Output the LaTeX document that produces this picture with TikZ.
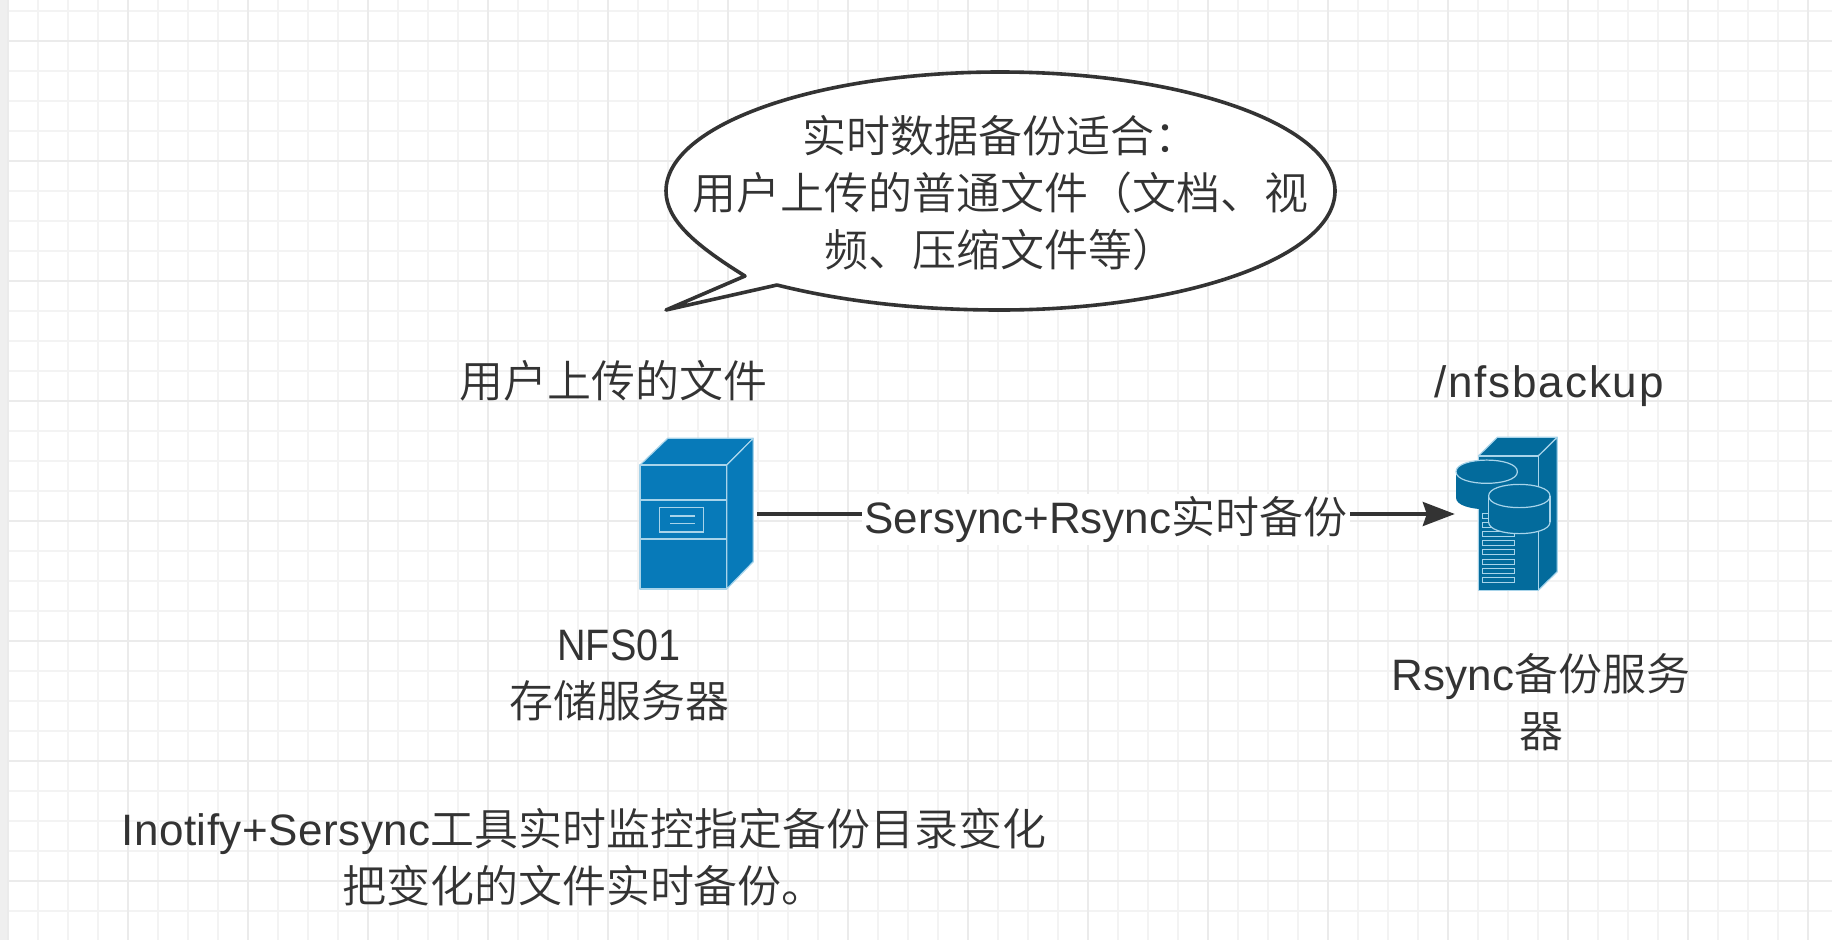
\documentclass[tikz,border=0pt]{standalone}
\usepackage{fontspec}
\setmainfont{Liberation Sans}
\newfontfamily\cjk{Noto Sans CJK SC}[UprightFont=* DemiLight]
\usetikzlibrary{arrows.meta}
\definecolor{ink}{HTML}{333333}
\definecolor{gridminor}{HTML}{F3F3F3}
\definecolor{gridmajor}{HTML}{EBEBEB}
\definecolor{blueA}{HTML}{077AB9}
\definecolor{blueB}{HTML}{036B9C}
\definecolor{edgeL}{HTML}{A8D4EA}
\tikzset{
  label text/.style={text=ink,inner sep=0pt,align=center,font=\fontsize{44}{57}\selectfont},
  icon box/.style={inner sep=0pt,minimum height=152pt},
  iconA/.style={fill=blueA,draw=edgeL,line width=1.2pt,line join=round},
  iconB/.style={fill=blueB,draw=edgeL,line width=1.2pt,line join=round},
  link/.style={draw=ink,line width=3.4pt,-{Stealth[length=32pt,width=24pt,inset=4pt]}},
}
\begin{document}
\begin{tikzpicture}[x=1pt,y=-1pt]
\useasboundingbox (0,0) rectangle (1832,940);
\fill[white] (0,0) rectangle (1832,940);
\fill[gridmajor!80!white] (0,0) rectangle (8,940);
% grid
\foreach \i in {0,...,60}{
  \pgfmathsetmacro\gx{8+30*\i}
  \draw[gridminor,line width=1.8pt] (\gx,0) -- (\gx,940);
}
\foreach \i in {0,...,31}{
  \pgfmathsetmacro\gy{10.6+30*\i}
  \draw[gridminor,line width=1.8pt] (8,\gy) -- (1832,\gy);
}
\foreach \i in {0,...,15}{
  \pgfmathsetmacro\gx{8+120*\i}
  \draw[gridmajor,line width=2pt] (\gx,0) -- (\gx,940);
}
\foreach \i in {0,...,7}{
  \pgfmathsetmacro\gy{40.6+120*\i}
  \draw[gridmajor,line width=2pt] (8,\gy) -- (1832,\gy);
}
% speech bubble
\draw[ink,fill=white,line width=3.6pt,line join=round]
  (666,191) .. controls (666,125.3) and (815.5,72) .. (1000,72)
  .. controls (1185,72) and (1335,125.3) .. (1335,191)
  .. controls (1335,256.7) and (1185,310) .. (1000,310)
  .. controls (920,310) and (845,302) .. (777,285)
  -- (666,310) -- (745,276)
  .. controls (695,245) and (666,220) .. (666,191) -- cycle;
\node[label text] (bubble) at (1000,193) {{\cjk 实时数据备份适合：}\\{\cjk 用户上传的普通文件（文档、视}\\{\cjk 频、压缩文件等）}};
% icon anchors
\node[icon box,minimum width=117pt] (nfs) at (698.5,514) {};
\node[icon box,minimum width=102pt] (rsync) at (1506,514) {};
% NFS server icon
\draw[iconA] (640,465) -- (667.7,438.3) -- (753.3,438.3) -- (726.7,465) -- cycle;
\draw[iconA] (726.7,465) -- (753.3,438.3) -- (753.3,561.7) -- (726.7,589) -- cycle;
\draw[iconA] (640,465) rectangle (726.7,589);
\draw[edgeL,line width=1.2pt] (640,500) -- (726.7,500) (640,539) -- (726.7,539);
\draw[edgeL,line width=1.2pt] (659.3,507.7) rectangle (703.7,532);
\draw[edgeL,line width=1.2pt] (670,516) -- (695,516) (670,523.3) -- (695,523.3);
% Rsync server icon
\draw[iconB] (1478.3,456) -- (1497.3,437.3) -- (1557.3,437.3) -- (1538.3,456) -- cycle;
\draw[iconB] (1538.3,456) -- (1557.3,437.3) -- (1557.3,571.7) -- (1538.3,590.3) -- cycle;
\draw[iconB] (1478.3,456) rectangle (1538.3,590.3);
\foreach \vy in {515.7,525,534,543.3,552.3,561.7,570.7,580}{
  \draw[edgeL,line width=1pt] (1482.7,\vy-2.6) rectangle (1514,\vy+2.6);
}
\foreach \cx/\cy in {1486.7/471.7,1519.3/496}{
  \fill[blueB] (\cx-30.7,\cy) -- (\cx-30.7,\cy+26) .. controls (\cx-30.7,\cy+41.5) and (\cx+30.7,\cy+41.5) .. (\cx+30.7,\cy+26) -- (\cx+30.7,\cy) -- cycle;
  \draw[iconB] (\cx-30.7,\cy) .. controls (\cx-30.7,\cy+15.5) and (\cx+30.7,\cy+15.5) .. (\cx+30.7,\cy)
     .. controls (\cx+30.7,\cy-15.5) and (\cx-30.7,\cy-15.5) .. (\cx-30.7,\cy) -- cycle;
}
\draw[edgeL,line width=1.2pt] (1488.6,496) -- ++(0,26);
\draw[edgeL,line width=1.2pt] (1550,496) -- ++(0,26);
\draw[edgeL,line width=1.2pt] (1488.6,522) .. controls (1488.6,537.5) and (1550,537.5) .. (1550,522);
% labels
\node[label text] (srcfiles) at (613,381) {\cjk 用户上传的文件};
\node[label text] (dstdir) at (1549,386) {\addfontfeature{LetterSpace=4.2}/nfsbackup};
\node[label text] (nfslabel) at (619,675) {{\addfontfeature{FakeStretch=0.9}NFS01}\\{\cjk 存储服务器}};
\node[label text] (rsynclabel) at (1541,702) {Rsync{\cjk 备份服务}\\{\cjk 器}};
\node[label text] (note) at (584,857) {{\addfontfeature{LetterSpace=1.2}Inotify+Sersync}{\cjk 工具实时监控指定备份目录变化}\\{\cjk 把变化的文件实时备份。}};
% connector
\draw[link] (nfs.east) -- node[label text,fill=white,inner ysep=2pt,inner xsep=3pt,yshift=-5.5pt] (linklabel) {Sersync+Rsync{\cjk 实时备份}} (rsync.west);
\end{tikzpicture}
\end{document}
